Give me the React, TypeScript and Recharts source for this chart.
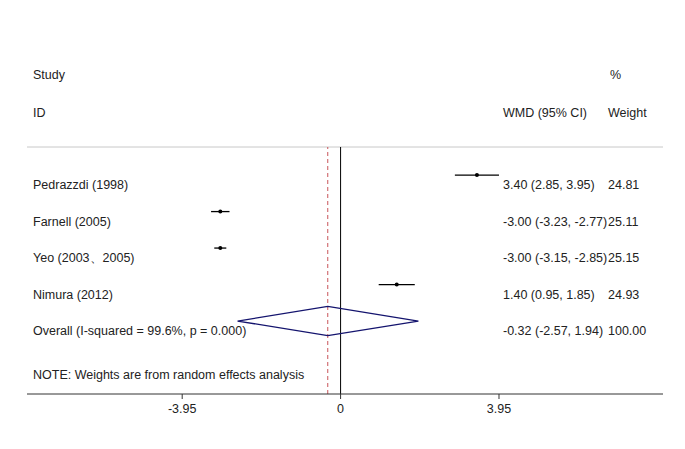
import React from 'react';
import { ComposedChart, Scatter, ErrorBar, XAxis, YAxis, ReferenceLine } from 'recharts';

// studies, top to bottom
const studies = ['Pedrazzdi (1998)', 'Farnell (2005)', 'Yeo (2003、2005)', 'Nimura (2012)'];
const wmd = [3.4, -3.0, -3.0, 1.4];
const ciLow = [2.85, -3.23, -3.15, 0.95];
const ciHigh = [3.95, -2.77, -2.85, 1.85];
const estimates = ['3.40 (2.85, 3.95)', '-3.00 (-3.23, -2.77)', '-3.00 (-3.15, -2.85)', '1.40 (0.95, 1.85)'];
const weights = ['24.81', '25.11', '25.15', '24.93'];

const overallLabel = 'Overall  (I-squared = 99.6%, p = 0.000)';
const overallWmd = -0.32;
const overallLow = -2.57;
const overallHigh = 1.94;
const overallEstimate = '-0.32 (-2.57, 1.94)';
const overallWeight = '100.00';

const xTicks = [-3.95, 0, 3.95];

const FONT = 'Liberation Sans, Arial, sans-serif';
const FS = 12.5;
const TXT = '#222';

const pointData = studies.map((s, i) => ({
  x: wmd[i],
  y: i + 1,
  err: [wmd[i] - ciLow[i], ciHigh[i] - wmd[i]],
}));

const overallRow = studies.length + 1;
const diamondData = [
  { x: overallLow, y: overallRow },
  { x: overallWmd, y: overallRow - 0.4 },
  { x: overallHigh, y: overallRow },
  { x: overallWmd, y: overallRow + 0.4 },
  { x: overallLow, y: overallRow },
];

const labelRows = [
  ...studies.map((s, i) => ({ x: 0, y: i + 1, name: s, est: estimates[i], w: weights[i] })),
  { x: 0, y: overallRow, name: overallLabel, est: overallEstimate, w: overallWeight },
];

const RowText = (props: any) => {
  const { cy, payload } = props;
  const y = cy + 10;
  return (
    <g fontFamily={FONT} fontSize={FS} fill={TXT}>
      <text x={33} y={y} dominantBaseline="central">{payload.name}</text>
      <text x={503} y={y} dominantBaseline="central">{payload.est}</text>
      <text x={608} y={y} dominantBaseline="central">{payload.w}</text>
    </g>
  );
};

const Dot = (props: any) => <circle cx={props.cx} cy={props.cy} r={2} fill="#000" />;

export default function App() {
  return (
    <div style={{ position: 'absolute', left: 0, top: 0, background: '#fff' }}>
      <ComposedChart width={685} height={449} margin={{ top: 147, right: 22, bottom: 25, left: 27 }}>
        <XAxis
          type="number"
          dataKey="x"
          domain={[-7.82, 8.04]}
          ticks={xTicks}
          tickFormatter={(v: number) => (v === 0 ? '0' : v.toFixed(2))}
          height={30}
          axisLine={{ stroke: '#333' }}
          tickLine={{ stroke: '#333' }}
          tickSize={5}
          tickMargin={5}
          tick={{ fontFamily: FONT, fontSize: FS, fill: TXT }}
          allowDataOverflow
        />
        <YAxis type="number" dataKey="y" domain={[0.23, 7]} reversed hide allowDataOverflow />
        <ReferenceLine y={0.23} stroke="#c8c8c8" strokeWidth={1} />
        <ReferenceLine x={0} stroke="#000" strokeWidth={1} />
        <ReferenceLine x={overallWmd} stroke="#c8555a" strokeDasharray="4 3" strokeWidth={1} />
        <Scatter data={labelRows} shape={RowText} isAnimationActive={false} />
        <Scatter data={pointData} shape={Dot} isAnimationActive={false}>
          <ErrorBar dataKey="err" direction="x" width={0} stroke="#000" strokeWidth={1.3} />
        </Scatter>
        <Scatter
          data={diamondData}
          line={{ stroke: '#14146e', strokeWidth: 1.3 }}
          shape={() => null}
          isAnimationActive={false}
        />
        <g fontFamily={FONT} fontSize={FS} fill={TXT}>
          <text x={33} y={75} dominantBaseline="central">Study</text>
          <text x={610} y={75} dominantBaseline="central">%</text>
          <text x={33} y={113} dominantBaseline="central">ID</text>
          <text x={503} y={113} dominantBaseline="central">WMD (95% CI)</text>
          <text x={608} y={113} dominantBaseline="central">Weight</text>
          <text x={33} y={375} dominantBaseline="central">NOTE: Weights are from random effects analysis</text>
        </g>
      </ComposedChart>
    </div>
  );
}
